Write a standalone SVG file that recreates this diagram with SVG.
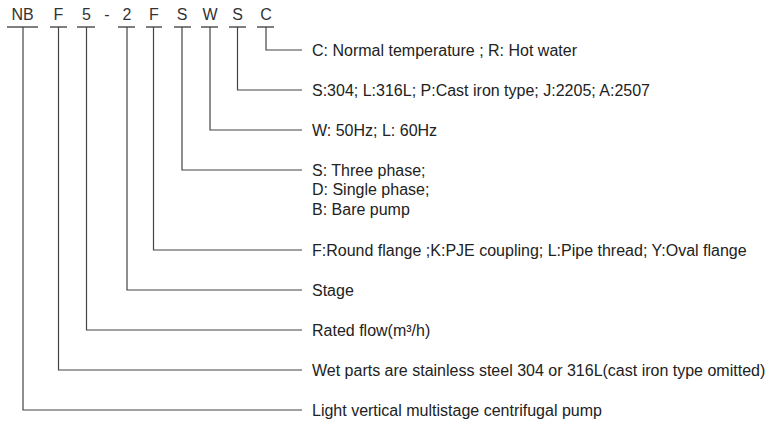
<svg xmlns="http://www.w3.org/2000/svg" width="767" height="425" viewBox="0 0 767 425">
<style>
.code{font-family:"Liberation Sans",Arial,sans-serif;font-size:16px;fill:#333;text-anchor:middle}
.lbl{font-family:"Liberation Sans",Arial,sans-serif;font-size:16px;fill:#222}
.ul{stroke:#555;stroke-width:1.4;fill:none}
.ln{stroke:#444;stroke-width:1.2;fill:none}
</style>
<rect width="767" height="425" fill="#fff"/>
<g id="code">
<text class="code" x="22.5" y="20">NB</text>
<text class="code" x="58.5" y="20">F</text>
<text class="code" x="86.5" y="20">5</text>
<text class="code" x="107" y="20">-</text>
<text class="code" x="127" y="20">2</text>
<text class="code" x="154" y="20">F</text>
<text class="code" x="182" y="20">S</text>
<text class="code" x="210" y="20">W</text>
<text class="code" x="237.5" y="20">S</text>
<text class="code" x="266" y="20">C</text>
<path class="ul" d="M7 27H38M50 27H67M77 27H95M118 27H135M146 27H162M174 27H191M201 27H218M229 27H246M257 27H274"/>
</g>
<g id="connectors">
<path class="ln" d="M266 27V50H302"/>
<path class="ln" d="M237.5 27V90H302"/>
<path class="ln" d="M210 27V130H302"/>
<path class="ln" d="M182 27V170H302"/>
<path class="ln" d="M153.5 27V250H302"/>
<path class="ln" d="M127 27V290H302"/>
<path class="ln" d="M86.5 27V330H302"/>
<path class="ln" d="M58.5 27V370H302"/>
<path class="ln" d="M23 27V410H302"/>
</g>
<g id="n-c"><text class="lbl" x="312" y="56">C: Normal temperature ; R: Hot water</text></g>
<g id="n-material"><text class="lbl" x="312" y="96">S:304; L:316L; P:Cast iron type; J:2205; A:2507</text></g>
<g id="n-freq"><text class="lbl" x="312" y="136">W: 50Hz; L: 60Hz</text></g>
<g id="n-phase"><text class="lbl" x="312" y="175.5">S: Three phase;</text><text class="lbl" x="312" y="195">D: Single phase;</text><text class="lbl" x="312" y="214.5">B: Bare pump</text></g>
<g id="n-flange"><text class="lbl" x="312" y="256">F:Round flange ;K:PJE coupling; L:Pipe thread; Y:Oval flange</text></g>
<g id="n-stage"><text class="lbl" x="312" y="296">Stage</text></g>
<g id="n-flow"><text class="lbl" x="312" y="336">Rated flow(m³/h)</text></g>
<g id="n-wet"><text class="lbl" x="312" y="376">Wet parts are stainless steel 304 or 316L(cast iron type omitted)</text></g>
<g id="n-pump"><text class="lbl" x="312" y="416">Light vertical multistage centrifugal pump</text></g>
</svg>
